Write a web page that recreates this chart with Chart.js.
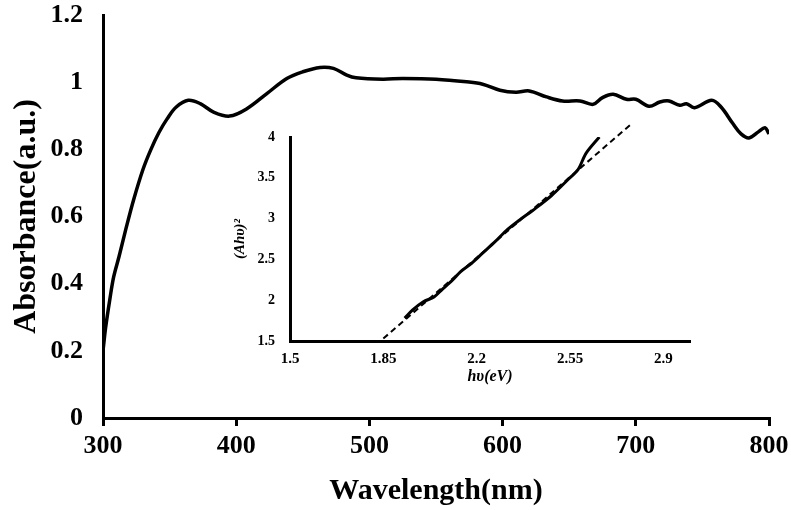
<!DOCTYPE html>
<html lang="en">
<head>
    <meta charset="UTF-8">
    <title>Absorbance spectrum with Tauc plot inset</title>
    <style>
        body {
            margin: 0;
            background-color: #ffffff;
        }
        .chart-container {
            position: relative;
            width: 791px;
            height: 510px;
            background: #ffffff;
        }
        #mainChart {
            position: absolute;
            left: 0;
            top: 0;
        }
        #insetChart {
            position: absolute;
            left: 200px;
            top: 110px;
        }
    </style>
</head>
<body>
    <div class="chart-container">
        <canvas id="mainChart" width="791" height="510"></canvas>
        <canvas id="insetChart" width="510" height="290"></canvas>
    </div>

    <script src="https://cdn.jsdelivr.net/npm/chart.js@4.4.3/dist/chart.umd.min.js"></script>
    <script>
        // Main spectrum
        const wavelength = [300, 302, 305, 308, 312, 317, 323, 330, 336, 342, 348, 355, 364, 373, 383, 395,
            408, 423, 438, 450, 463, 473, 483, 490, 510, 525, 550, 573, 585, 598, 610, 620, 633, 645,
            658, 668, 675, 683, 693, 700, 710, 718, 725, 733, 738, 744, 757, 764, 773, 779, 785, 792, 797, 800];
        const absorbance = [0.20, 0.27, 0.35, 0.42, 0.48, 0.56, 0.65, 0.74, 0.80, 0.85, 0.89, 0.926, 0.946, 0.936, 0.911, 0.899,
            0.921, 0.966, 1.011, 1.031, 1.044, 1.041, 1.021, 1.013, 1.009, 1.011, 1.009, 1.001, 0.994, 0.976, 0.970, 0.974, 0.956, 0.944,
            0.944, 0.934, 0.954, 0.964, 0.949, 0.949, 0.928, 0.941, 0.944, 0.931, 0.936, 0.924, 0.946, 0.926, 0.876, 0.846, 0.834, 0.852, 0.864, 0.846];
        const wavelengthTicks = [300, 400, 500, 600, 700, 800];
        const absorbanceTicks = [0, 0.2, 0.4, 0.6, 0.8, 1, 1.2];

        // Inset: Tauc plot + linear fit
        const photonEnergy = [1.93, 1.96, 2.00, 2.04, 2.07, 2.11, 2.14, 2.18, 2.22, 2.27, 2.31, 2.36, 2.41, 2.48, 2.54, 2.58, 2.61, 2.66];
        const tauc = [1.78, 1.88, 1.98, 2.04, 2.13, 2.25, 2.35, 2.45, 2.57, 2.72, 2.85, 2.98, 3.10, 3.28, 3.47, 3.60, 3.80, 4.00];
        const fitEnergy = [1.85, 2.78];
        const fitTauc = [1.53, 4.16];
        const energyTicks = [1.5, 1.85, 2.2, 2.55, 2.9];
        const taucTicks = [1.5, 2, 2.5, 3, 3.5, 4];

        const serif = "'Liberation Serif', 'Times New Roman', serif";
        Chart.defaults.color = '#000000';
        Chart.defaults.font.family = serif;

        const toXY = (xs, ys) => xs.map((x, i) => ({ x: x, y: ys[i] }));
        const fixedTicks = (values) => (scale) => {
            scale.ticks = values.map(v => ({ value: v }));
        };
        const tickText = (v) => String(+v.toFixed(2));
        // fixed axis box size, no extra label padding pushed into the layout
        const fitSize = (prop, size) => (scale) => {
            scale[prop] = size;
            scale.paddingTop = 0;
            scale.paddingBottom = 0;
            scale.paddingLeft = 0;
            scale.paddingRight = 0;
        };

        new Chart(document.getElementById('mainChart'), {
            type: 'line',
            data: {
                datasets: [{
                    data: toXY(wavelength, absorbance),
                    borderColor: '#000000',
                    borderWidth: 3.5,
                    pointRadius: 0,
                    tension: 0.35,
                    fill: false
                }]
            },
            options: {
                responsive: false,
                animation: false,
                layout: { padding: { top: 15, right: 22, left: 0, bottom: 0 } },
                plugins: { legend: { display: false }, tooltip: { enabled: false } },
                scales: {
                    x: {
                        type: 'linear',
                        min: 300,
                        max: 800,
                        afterBuildTicks: fixedTicks(wavelengthTicks),
                        afterFit: fitSize('height', 92),
                        grid: {
                            drawOnChartArea: false,
                            drawTicks: true,
                            tickLength: 8,
                            color: '#000000',
                            lineWidth: 3
                        },
                        border: { color: '#000000', width: 3 },
                        ticks: {
                            padding: 5,
                            font: { size: 26, weight: 'bold' },
                            callback: tickText
                        },
                        title: {
                            display: true,
                            text: 'Wavelength(nm)',
                            font: { size: 30, weight: 'bold' },
                            padding: { top: 0, bottom: 1 }
                        }
                    },
                    y: {
                        min: 0,
                        max: 1.2,
                        afterBuildTicks: fixedTicks(absorbanceTicks),
                        afterFit: fitSize('width', 103),
                        grid: { display: false, drawTicks: false },
                        border: { color: '#000000', width: 3 },
                        ticks: {
                            padding: 20,
                            font: { size: 26, weight: 'bold' },
                            callback: tickText
                        },
                        title: {
                            display: true,
                            text: 'Absorbance(a.u.)',
                            font: { size: 32, weight: 'bold' },
                            padding: { top: 8, bottom: 0 }
                        }
                    }
                }
            }
        });

        new Chart(document.getElementById('insetChart'), {
            type: 'line',
            data: {
                datasets: [{
                    data: toXY(photonEnergy, tauc),
                    borderColor: '#000000',
                    borderWidth: 3,
                    pointRadius: 0,
                    tension: 0.3,
                    fill: false
                }, {
                    data: toXY(fitEnergy, fitTauc),
                    borderColor: '#000000',
                    borderWidth: 2,
                    borderDash: [6, 4],
                    pointRadius: 0,
                    clip: false,
                    fill: false
                }]
            },
            options: {
                responsive: false,
                animation: false,
                layout: { padding: { top: 27, right: 20, left: 0, bottom: 0 } },
                plugins: { legend: { display: false }, tooltip: { enabled: false } },
                scales: {
                    x: {
                        type: 'linear',
                        min: 1.5,
                        max: 3.0,
                        afterBuildTicks: fixedTicks(energyTicks),
                        afterFit: fitSize('height', 59),
                        grid: { display: false, drawTicks: false },
                        border: { color: '#000000', width: 3 },
                        ticks: {
                            padding: 9,
                            font: { size: 15, weight: 'bold' },
                            callback: tickText
                        },
                        title: {
                            display: true,
                            text: 'hυ(eV)',
                            font: { size: 16, weight: 'bold', style: 'italic' },
                            padding: { top: 0, bottom: 14 }
                        }
                    },
                    y: {
                        min: 1.5,
                        max: 4,
                        afterBuildTicks: fixedTicks(taucTicks),
                        afterFit: fitSize('width', 90),
                        grid: { display: false, drawTicks: false },
                        border: { color: '#000000', width: 3 },
                        ticks: {
                            padding: 15,
                            font: { size: 14, weight: 'bold' },
                            callback: tickText
                        },
                        title: {
                            display: true,
                            text: '(Ahυ)²',
                            font: { size: 15, weight: 'bold', style: 'italic' },
                            padding: { top: 31, bottom: 0 }
                        }
                    }
                }
            }
        });
    </script>
</body>
</html>
